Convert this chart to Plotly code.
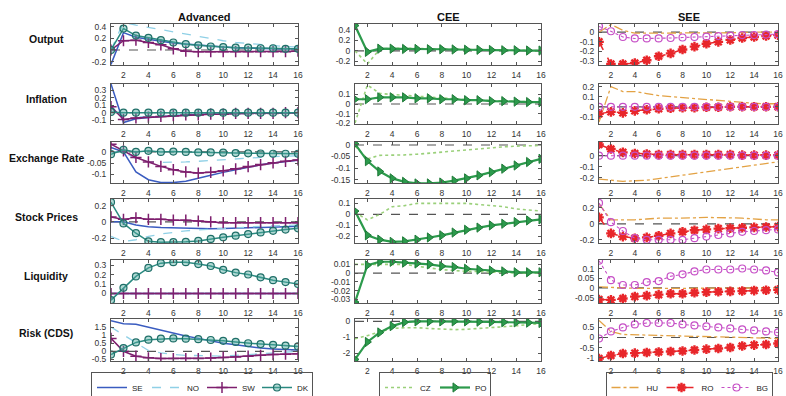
import plotly.graph_objects as go

# ---------------- data ----------------
periods = [1, 2, 3, 4, 5, 6, 7, 8, 9, 10, 11, 12, 13, 14, 15, 16]
x_ticks = [2, 4, 6, 8, 10, 12, 14, 16]
row_labels = ["Output", "Inflation", "Exchange Rate", "Stock Prices", "Liquidity", "Risk (CDS)"]
col_titles = ["Advanced", "CEE", "SEE"]

# Advanced
se_output = [-0.25, 0.30, 0.22, 0.18, 0.15, 0.12, 0.10, 0.08, 0.06, 0.05, 0.04, 0.03, 0.03, 0.02, 0.02, 0.02]
no_output = [0.00, 0.48, 0.43, 0.39, 0.35, 0.31, 0.28, 0.24, 0.20, 0.16, 0.13, 0.11, 0.09, 0.07, 0.06, 0.05]
sw_output = [0.00, 0.16, 0.17, 0.13, 0.09, 0.02, -0.02, -0.03, -0.03, -0.03, -0.03, -0.03, -0.03, -0.03, -0.03, -0.02]
dk_output = [0.00, 0.37, 0.25, 0.21, 0.17, 0.13, 0.10, 0.08, 0.06, 0.05, 0.04, 0.04, 0.03, 0.03, 0.02, 0.02]

se_infl = [0.38, -0.13, -0.08, -0.06, -0.05, -0.04, -0.03, -0.02, -0.02, -0.01, -0.01, -0.01, 0.00, 0.00, 0.00, 0.00]
no_infl = [0.10, -0.10, -0.06, -0.05, -0.04, -0.03, -0.02, -0.02, -0.01, -0.01, -0.01, 0.00, 0.00, 0.00, 0.00, 0.00]
sw_infl = [0.08, -0.09, -0.07, -0.06, -0.05, -0.04, -0.03, -0.03, -0.02, -0.02, -0.01, -0.01, -0.01, -0.01, 0.00, 0.00]
dk_infl = [0.01, 0.00, 0.00, 0.00, 0.00, 0.00, 0.00, 0.00, 0.00, 0.00, 0.00, 0.00, 0.00, 0.00, 0.00, 0.00]

se_fx = [0.020, 0.000, -0.090, -0.125, -0.138, -0.138, -0.132, -0.120, -0.105, -0.092, -0.080, -0.068, -0.058, -0.050, -0.043, -0.037]
no_fx = [0.000, 0.000, -0.030, -0.045, -0.047, -0.047, -0.045, -0.042, -0.038, -0.034, -0.030, -0.027, -0.024, -0.021, -0.019, -0.017]
sw_fx = [0.035, 0.005, -0.025, -0.045, -0.065, -0.080, -0.090, -0.095, -0.092, -0.085, -0.076, -0.066, -0.057, -0.049, -0.042, -0.036]
dk_fx = [-0.010, 0.010, 0.000, 0.005, 0.000, 0.002, 0.000, -0.002, -0.002, -0.003, -0.005, -0.006, -0.007, -0.008, -0.008, -0.008]

se_stock = [0.00, 0.00, -0.04, -0.06, -0.07, -0.075, -0.08, -0.085, -0.085, -0.083, -0.08, -0.075, -0.07, -0.065, -0.06, -0.055]
no_stock = [-0.18, -0.24, -0.22, -0.18, -0.15, -0.13, -0.11, -0.10, -0.09, -0.08, -0.07, -0.06, -0.055, -0.05, -0.045, -0.04]
sw_stock = [0.06, 0.03, 0.05, 0.03, 0.03, 0.02, 0.02, 0.01, 0.00, -0.01, -0.01, -0.01, -0.01, -0.01, -0.01, -0.01]
dk_stock = [0.24, -0.02, -0.14, -0.24, -0.25, -0.25, -0.245, -0.235, -0.21, -0.19, -0.17, -0.15, -0.13, -0.11, -0.095, -0.08]

se_liq = [0.00, 0.00, 0.00, 0.00, 0.00, 0.00, 0.00, 0.00, 0.00, 0.00, 0.00, 0.00, 0.00, 0.00, 0.00, 0.00]
no_liq = [0.00, 0.00, 0.00, 0.00, 0.00, 0.00, 0.00, 0.00, 0.00, 0.00, 0.00, 0.00, 0.00, 0.00, 0.00, 0.00]
sw_liq = [0.00, 0.00, 0.00, 0.00, 0.00, 0.00, 0.00, 0.00, 0.00, 0.00, 0.00, 0.00, 0.00, 0.00, 0.00, 0.00]
dk_liq = [-0.07, 0.06, 0.18, 0.27, 0.32, 0.33, 0.33, 0.31, 0.29, 0.25, 0.22, 0.20, 0.17, 0.14, 0.12, 0.10]

se_risk = [1.90, 1.70, 1.68, 1.50, 1.30, 1.10, 0.95, 0.80, 0.65, 0.50, 0.40, 0.30, 0.20, 0.15, 0.10, 0.08]
no_risk = [1.50, 1.00, 0.50, 0.05, -0.10, -0.20, -0.25, -0.28, -0.30, -0.30, -0.25, -0.20, -0.15, -0.10, -0.05, 0.00]
sw_risk = [0.80, 0.00, -0.30, -0.40, -0.45, -0.45, -0.45, -0.45, -0.42, -0.38, -0.35, -0.30, -0.25, -0.20, -0.18, -0.15]
dk_risk = [-0.20, 0.20, 0.55, 0.72, 0.78, 0.80, 0.78, 0.75, 0.70, 0.65, 0.58, 0.50, 0.45, 0.40, 0.35, 0.30]

# CEE
cz_output = [0.00, -0.25, 0.03, 0.05, 0.05, 0.04, 0.04, 0.035, 0.03, 0.025, 0.02, 0.015, 0.01, 0.01, 0.005, 0.005]
po_output = [0.48, -0.02, 0.04, 0.04, 0.035, 0.035, 0.03, 0.03, 0.025, 0.02, 0.02, 0.015, 0.01, 0.01, 0.005, 0.005]
cz_infl = [-0.20, 0.20, 0.11, 0.10, 0.09, 0.08, 0.07, 0.06, 0.05, 0.045, 0.04, 0.035, 0.03, 0.025, 0.02, 0.02]
po_infl = [0.05, 0.05, 0.07, 0.07, 0.07, 0.06, 0.06, 0.05, 0.05, 0.04, 0.04, 0.03, 0.03, 0.025, 0.02, 0.02]
cz_fx = [-0.005, -0.060, -0.045, -0.045, -0.043, -0.040, -0.035, -0.030, -0.025, -0.020, -0.015, -0.010, -0.008, -0.005, -0.003, -0.002]
po_fx = [0.005, -0.070, -0.115, -0.145, -0.160, -0.167, -0.167, -0.163, -0.155, -0.145, -0.132, -0.118, -0.103, -0.089, -0.074, -0.060]
cz_stock = [0.02, -0.05, 0.00, 0.07, 0.08, 0.10, 0.10, 0.10, 0.10, 0.10, 0.09, 0.08, 0.07, 0.05, 0.04, 0.03]
po_stock = [0.03, -0.19, -0.23, -0.25, -0.245, -0.23, -0.21, -0.19, -0.165, -0.14, -0.12, -0.10, -0.085, -0.07, -0.055, -0.045]
cz_liq = [0.010, 0.010, 0.010, 0.010, 0.010, 0.008, 0.006, 0.004, 0.003, 0.002, 0.002, 0.001, 0.001, 0.000, 0.000, 0.000]
po_liq = [-0.033, 0.009, 0.013, 0.013, 0.012, 0.011, 0.010, 0.008, 0.007, 0.005, 0.004, 0.003, 0.002, 0.001, 0.001, 0.001]
cz_risk = [-1.10, -0.90, -0.65, -0.45, -0.40, -0.40, -0.45, -0.50, -0.52, -0.50, -0.45, -0.40, -0.35, -0.28, -0.20, -0.15]
po_risk = [-2.40, -1.30, -0.70, -0.30, -0.05, 0.00, 0.00, 0.00, 0.00, 0.00, -0.02, -0.03, -0.05, -0.06, -0.08, -0.10]

# SEE
hu_output = [0.00, 0.08, 0.02, -0.01, -0.01, -0.01, -0.01, -0.01, -0.01, -0.01, -0.01, -0.005, -0.005, 0.00, 0.00, 0.00]
ro_output = [-0.10, -0.33, -0.33, -0.32, -0.29, -0.25, -0.22, -0.18, -0.15, -0.12, -0.10, -0.08, -0.06, -0.05, -0.04, -0.03]
bg_output = [0.06, 0.01, -0.05, -0.065, -0.065, -0.065, -0.06, -0.055, -0.05, -0.045, -0.04, -0.035, -0.03, -0.03, -0.025, -0.02]
hu_infl = [-0.15, 0.20, 0.15, 0.15, 0.13, 0.11, 0.10, 0.09, 0.08, 0.07, 0.06, 0.05, 0.04, 0.035, 0.03, 0.03]
ro_infl = [-0.07, -0.05, -0.06, -0.04, -0.03, -0.02, -0.015, -0.01, -0.01, -0.005, -0.005, 0.00, 0.00, 0.00, 0.00, 0.00]
bg_infl = [0.00, 0.00, 0.00, 0.00, 0.00, 0.00, 0.00, 0.00, 0.00, 0.00, 0.00, 0.00, 0.00, 0.00, 0.00, 0.00]
hu_fx = [-0.21, -0.22, -0.23, -0.225, -0.22, -0.205, -0.19, -0.175, -0.16, -0.145, -0.13, -0.115, -0.10, -0.085, -0.07, -0.055]
ro_fx = [0.10, 0.06, 0.03, 0.02, 0.015, 0.01, 0.01, 0.01, 0.01, 0.01, 0.01, 0.01, 0.005, 0.005, 0.005, 0.005]
bg_fx = [0.00, 0.00, 0.00, 0.00, 0.00, 0.00, 0.00, 0.00, 0.00, 0.00, 0.00, 0.00, 0.00, 0.00, 0.00, 0.00]
hu_stock = [0.25, 0.05, 0.05, 0.05, 0.06, 0.07, 0.07, 0.07, 0.075, 0.08, 0.08, 0.075, 0.07, 0.06, 0.05, 0.05]
ro_stock = [0.08, -0.12, -0.16, -0.18, -0.17, -0.15, -0.12, -0.10, -0.08, -0.07, -0.06, -0.055, -0.05, -0.045, -0.04, -0.035]
bg_stock = [0.26, 0.02, -0.09, -0.18, -0.20, -0.20, -0.20, -0.20, -0.18, -0.16, -0.14, -0.12, -0.10, -0.09, -0.08, -0.07]
hu_liq = [0.005, 0.002, 0.000, -0.002, -0.003, -0.003, -0.003, -0.003, -0.002, -0.002, -0.002, -0.001, -0.001, -0.001, 0.000, 0.000]
ro_liq = [-0.060, -0.062, -0.055, -0.045, -0.040, -0.035, -0.030, -0.030, -0.025, -0.022, -0.020, -0.018, -0.016, -0.014, -0.012, -0.010]
bg_liq = [0.140, 0.040, 0.015, 0.015, 0.030, 0.035, 0.060, 0.070, 0.085, 0.095, 0.095, 0.095, 0.100, 0.095, 0.090, 0.080]
hu_risk = [0.85, 0.30, 0.15, 0.15, 0.12, 0.10, 0.08, 0.06, 0.05, 0.04, 0.03, 0.02, 0.01, 0.00, -0.02, -0.05]
ro_risk = [-1.05, -0.90, -0.80, -0.78, -0.75, -0.72, -0.70, -0.67, -0.62, -0.58, -0.55, -0.50, -0.42, -0.38, -0.35, -0.30]
bg_risk = [-0.05, 0.30, 0.50, 0.65, 0.72, 0.72, 0.72, 0.65, 0.60, 0.55, 0.50, 0.45, 0.40, 0.35, 0.30, 0.25]

# y tick values per panel (rows x columns)
yticks_adv = [[-0.2, 0, 0.2, 0.4], [-0.1, 0, 0.1, 0.2, 0.3], [-0.1, -0.05, 0], [-0.2, 0, 0.2], [0, 0.1, 0.2, 0.3], [-0.5, 0, 0.5, 1, 1.5]]
yticks_cee = [[-0.2, 0, 0.2, 0.4], [-0.2, -0.1, 0, 0.1], [-0.15, -0.1, -0.05, 0], [-0.2, -0.1, 0, 0.1], [-0.03, -0.02, -0.01, 0, 0.01], [-2, -1, 0]]
yticks_see = [[-0.3, -0.2, -0.1, 0], [-0.1, 0, 0.1, 0.2], [-0.2, -0.1, 0], [-0.2, 0, 0.2], [-0.05, 0, 0.05, 0.1], [-1, -0.5, 0, 0.5]]

# ---------------- layout geometry (pixels) ----------------
W, H = 786, 412          # page taller than the 396px window so the legends can sit low
col_px = [(111, 298), (355, 541), (599, 778)]
row_px = [(24, 65), (84, 124), (142, 183), (199, 243), (260, 303), (319, 361)]
label_y = [39, 99, 158, 217, 276, 333]

yranges = [
    [[-0.26, 0.45], [-0.15, 0.38], [-0.14, 0.045], [-0.26, 0.28], [-0.1, 0.353], [-0.6, 2.0]],
    [[-0.27, 0.51], [-0.21, 0.21], [-0.165, 0.013], [-0.26, 0.14], [-0.034, 0.015], [-2.5, 0.15]],
    [[-0.34, 0.085], [-0.17, 0.225], [-0.245, 0.123], [-0.24, 0.31], [-0.078, 0.144], [-1.17, 0.92]],
]

styles = {
    "SE": dict(mode="lines", line=dict(color="#3a5cc0", width=1.5)),
    "NO": dict(mode="lines", line=dict(color="#8fd0e6", width=1.3, dash="dash")),
    "SW": dict(mode="lines+markers", line=dict(color="#7e1f6e", width=1.5),
               marker=dict(symbol="cross-thin-open", size=8, line=dict(color="#7e1f6e", width=1.5))),
    "DK": dict(mode="lines+markers", line=dict(color="#2a8a80", width=1.5),
               marker=dict(symbol="circle", size=7, color="rgba(80,170,160,0.45)", line=dict(color="#1f6f68", width=1.2))),
    "CZ": dict(mode="lines", line=dict(color="#9ad07a", width=1.6, dash="dot")),
    "PO": dict(mode="lines+markers", line=dict(color="#2c9a4c", width=2.2),
               marker=dict(symbol="triangle-right", size=8, color="#2c9a4c", line=dict(color="#1e7a38", width=1))),
    "HU": dict(mode="lines", line=dict(color="#e3a244", width=1.3, dash="dashdot")),
    "RO": dict(mode="lines+markers", line=dict(color="#e8262a", width=1.5, dash="dash"),
               marker=dict(symbol="asterisk-open", size=8, line=dict(color="#e8262a", width=2.4))),
    "BG": dict(mode="lines+markers", line=dict(color="#c64fc6", width=1.1, dash="dot"),
               marker=dict(symbol="circle-open", size=7, line=dict(color="#c64fc6", width=1.2))),
}

groups = [
    (["SE", "NO", "SW", "DK"], {
        "SE": [se_output, se_infl, se_fx, se_stock, se_liq, se_risk],
        "NO": [no_output, no_infl, no_fx, no_stock, no_liq, no_risk],
        "SW": [sw_output, sw_infl, sw_fx, sw_stock, sw_liq, sw_risk],
        "DK": [dk_output, dk_infl, dk_fx, dk_stock, dk_liq, dk_risk],
    }, yticks_adv, "legend"),
    (["CZ", "PO"], {
        "CZ": [cz_output, cz_infl, cz_fx, cz_stock, cz_liq, cz_risk],
        "PO": [po_output, po_infl, po_fx, po_stock, po_liq, po_risk],
    }, yticks_cee, "legend2"),
    (["HU", "RO", "BG"], {
        "HU": [hu_output, hu_infl, hu_fx, hu_stock, hu_liq, hu_risk],
        "RO": [ro_output, ro_infl, ro_fx, ro_stock, ro_liq, ro_risk],
        "BG": [bg_output, bg_infl, bg_fx, bg_stock, bg_liq, bg_risk],
    }, yticks_see, "legend3"),
]


def fmt(v):
    return "%g" % v


fig = go.Figure()
FONT = "Liberation Sans, Arial, sans-serif"
axis_common = dict(showline=True, linecolor="#555", linewidth=1, mirror="ticks",
                   ticks="inside", ticklen=3, tickcolor="#555", showgrid=False, zeroline=False,
                   automargin=False, ticklabelstandoff=2, ticklabeloverflow="allow",
                   tickfont=dict(size=8.5, color="#333", family=FONT))

layout = {}
for c, (names, series, yt, leg) in enumerate(groups):
    for r in range(6):
        n = r * 3 + c + 1
        xa = "x" if n == 1 else f"x{n}"
        ya = "y" if n == 1 else f"y{n}"
        # zero reference line
        fig.add_trace(go.Scatter(x=[periods[0], periods[-1]], y=[0, 0], mode="lines",
                                 line=dict(color="#555", width=1.2, dash="dash"),
                                 showlegend=False, hoverinfo="skip", xaxis=xa, yaxis=ya))
        for name in names:
            fig.add_trace(go.Scatter(x=periods, y=series[name][r], name=name,
                                     showlegend=(r == 0), legend=leg,
                                     xaxis=xa, yaxis=ya, **styles[name]))
        x0, x1 = col_px[c]
        t, b = row_px[r]
        layout["xaxis" if n == 1 else f"xaxis{n}"] = dict(
            domain=[x0 / W, x1 / W], anchor=ya, range=[1, 16],
            tickvals=x_ticks, ticktext=[str(v) for v in x_ticks], **axis_common)
        layout["yaxis" if n == 1 else f"yaxis{n}"] = dict(
            domain=[1 - b / H, 1 - t / H], anchor=xa, range=yranges[c][r],
            tickvals=yt[r], ticktext=[fmt(v) for v in yt[r]], **axis_common)

annotations = []
for r, lab in enumerate(row_labels):
    annotations.append(dict(text="<b>%s</b>" % lab, x=46 / W, y=1 - label_y[r] / H, xref="paper", yref="paper",
                            xanchor="center", yanchor="middle", showarrow=False,
                            font=dict(size=10.5, color="#111", family=FONT)))
for c, ttl in enumerate(col_titles):
    x0, x1 = col_px[c]
    annotations.append(dict(text="<b>%s</b>" % ttl, x=(x0 + x1) / 2 / W, y=1 - 17 / H, xref="paper", yref="paper",
                            xanchor="center", yanchor="middle", showarrow=False,
                            font=dict(size=11, color="#111", family=FONT)))

# transparent legend background so the x tick labels just above stay readable
leg_common = dict(orientation="h", yanchor="bottom", xanchor="center", xref="paper", yref="paper",
                  bgcolor="rgba(255,255,255,0)", bordercolor="#555", borderwidth=1, itemwidth=30, entrywidth=10,
                  font=dict(size=8, color="#222", family=FONT), tracegroupgap=0)

LEG_BOTTOM = 403
fig.update_layout(
    template="none",
    width=W, height=H, margin=dict(l=0, r=0, t=0, b=0, autoexpand=False),
    paper_bgcolor="white", plot_bgcolor="white",
    font=dict(family=FONT),
    annotations=annotations,
    legend=dict(x=202 / W, y=1 - LEG_BOTTOM / H, **leg_common),
    legend2=dict(x=435 / W, y=1 - LEG_BOTTOM / H, **leg_common),
    legend3=dict(x=689 / W, y=1 - LEG_BOTTOM / H, **leg_common),
    **layout,
)

fig.write_html("out.html", config={"displayModeBar": False},
               post_script="document.body.style.margin='0';document.body.style.overflow='hidden';")
